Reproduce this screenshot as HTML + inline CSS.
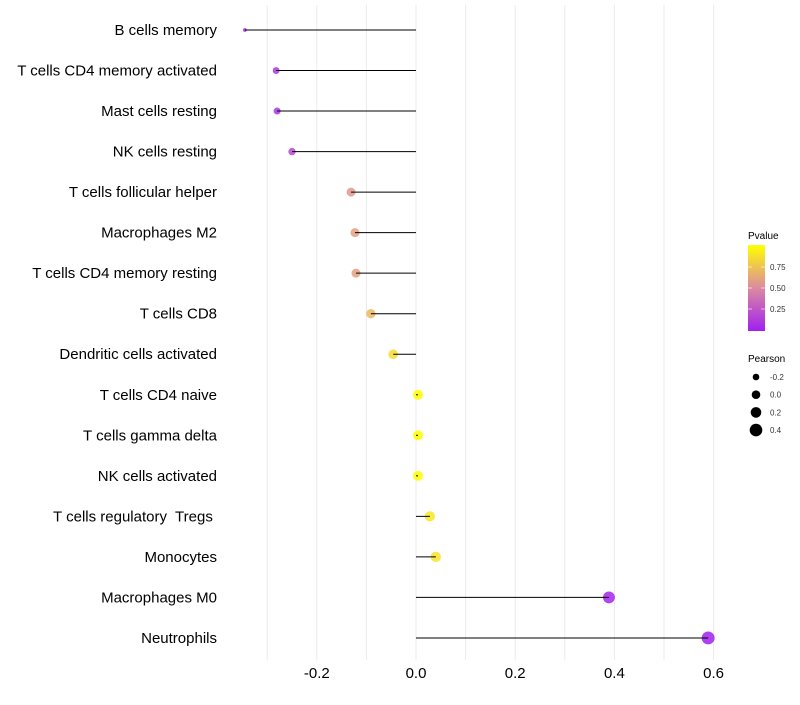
<!DOCTYPE html>
<html><head><meta charset="utf-8"><style>
body{margin:0;background:#fff;font-family:"Liberation Sans",sans-serif}
text{white-space:pre}
</style></head><body>
<svg id="chart" width="800" height="700" xmlns="http://www.w3.org/2000/svg">
<defs><linearGradient id="pg" x1="0" y1="1" x2="0" y2="0">
<stop offset="0" stop-color="#a020f0"/><stop offset="0.5" stop-color="#dc8aa0"/><stop offset="1" stop-color="#ffff00"/></linearGradient></defs>
<g id="grid"></g>
<g id="marks"></g>
<g id="labels"></g>
<g id="xt"></g>
<g>
<text x="748" y="239" font-size="10" fill="#000">Pvalue</text>
<rect x="748" y="245" width="17" height="86" fill="url(#pg)"/>
<line x1="748" x2="752" y1="267" y2="267" stroke="#fff" stroke-opacity="0.6"/><line x1="761" x2="765" y1="267" y2="267" stroke="#fff" stroke-opacity="0.6"/>
<line x1="748" x2="752" y1="288" y2="288" stroke="#fff" stroke-opacity="0.6"/><line x1="761" x2="765" y1="288" y2="288" stroke="#fff" stroke-opacity="0.6"/>
<line x1="748" x2="752" y1="309" y2="309" stroke="#fff" stroke-opacity="0.6"/><line x1="761" x2="765" y1="309" y2="309" stroke="#fff" stroke-opacity="0.6"/>
<text x="770" y="270" font-size="8" fill="#333">0.75</text>
<text x="770" y="291" font-size="8" fill="#333">0.50</text>
<text x="770" y="312" font-size="8" fill="#333">0.25</text>
</g>
<g id="sl">
<text x="748" y="362" font-size="10" fill="#000">Pearson</text>
</g>
</svg>
<script>
const categories=["B cells memory","T cells CD4 memory activated","Mast cells resting","NK cells resting","T cells follicular helper","Macrophages M2","T cells CD4 memory resting","T cells CD8","Dendritic cells activated","T cells CD4 naive","T cells gamma delta","NK cells activated","T cells regulatory  Tregs ","Monocytes","Macrophages M0","Neutrophils"];
const pearson=[-0.345,-0.282,-0.280,-0.250,-0.131,-0.123,-0.121,-0.091,-0.046,0.004,0.004,0.004,0.028,0.040,0.389,0.589];
const pvalue=[0.02,0.1,0.1,0.2,0.55,0.6,0.6,0.7,0.85,1.0,1.0,1.0,0.9,0.88,0.03,0.0];
const xTicks=[-0.2,0,0.2,0.4,0.6];
const xTickLabels=["-0.2","0.0","0.2","0.4","0.6"];
const legendVals=[-0.2,0,0.2,0.4];
const NS="http://www.w3.org/2000/svg";
const X=v=>416+v*496;
const Y=i=>30+i*40.53;
const SV=[-0.35,-0.28,-0.13,0,0.6],SR=[1.7,3.5,4.5,5,6.5];
function R(v){if(v<=SV[0])return SR[0];for(let k=1;k<SV.length;k++){if(v<=SV[k]){const f=(v-SV[k-1])/(SV[k]-SV[k-1]);return SR[k-1]+f*(SR[k]-SR[k-1]);}}return SR[SR.length-1];}
const RL=v=>4.3+5*v;
function col(p){const s=[[160,32,240],[220,138,160],[255,255,0]];let t=Math.max(0,Math.min(1,p));let a,b,f;if(t<0.5){a=s[0];b=s[1];f=t/0.5}else{a=s[1];b=s[2];f=(t-0.5)/0.5}return `rgb(${a.map((c,k)=>Math.round(c+(b[k]-c)*f)).join(',')})`}
function mk(t,at,p){const e=document.createElementNS(NS,t);for(const k in at)e.setAttribute(k,at[k]);p.appendChild(e);return e}
const g=document.getElementById('grid');
for(let v=-0.3;v<=0.65;v+=0.1){const l=mk('line',{x1:X(v),x2:X(v),y1:5,y2:660,stroke:'#ebebeb','stroke-width':1},g);

}
const m=document.getElementById('marks'),lb=document.getElementById('labels');
categories.forEach((c,i)=>{
const d=mk('circle',{cx:X(pearson[i]),cy:Y(i),r:R(pearson[i]),fill:col(pvalue[i]),'fill-opacity':0.85},m);


const s=mk('line',{x1:X(0),x2:X(pearson[i]),y1:Y(i),y2:Y(i),stroke:'#000','stroke-width':1},m);


const t=mk('text',{x:217,y:Y(i)+5,'text-anchor':'end','font-size':15,fill:'#000'},lb);t.textContent=c;


});
const xt=document.getElementById('xt');
xTicks.forEach((v,i)=>{const t=mk('text',{x:X(v),y:678,'text-anchor':'middle','font-size':15,fill:'#000'},xt);t.textContent=xTickLabels[i];

});
const sl=document.getElementById('sl');
legendVals.forEach((v,i)=>{const y=377+i*17.7;
const c=mk('circle',{cx:756,cy:y,r:RL(v),fill:'#000'},sl);


const t=mk('text',{x:770,y:y+3,'font-size':8,fill:'#333'},sl);t.textContent=v===0?'0.0':String(v);

});
</script>
</body></html>
